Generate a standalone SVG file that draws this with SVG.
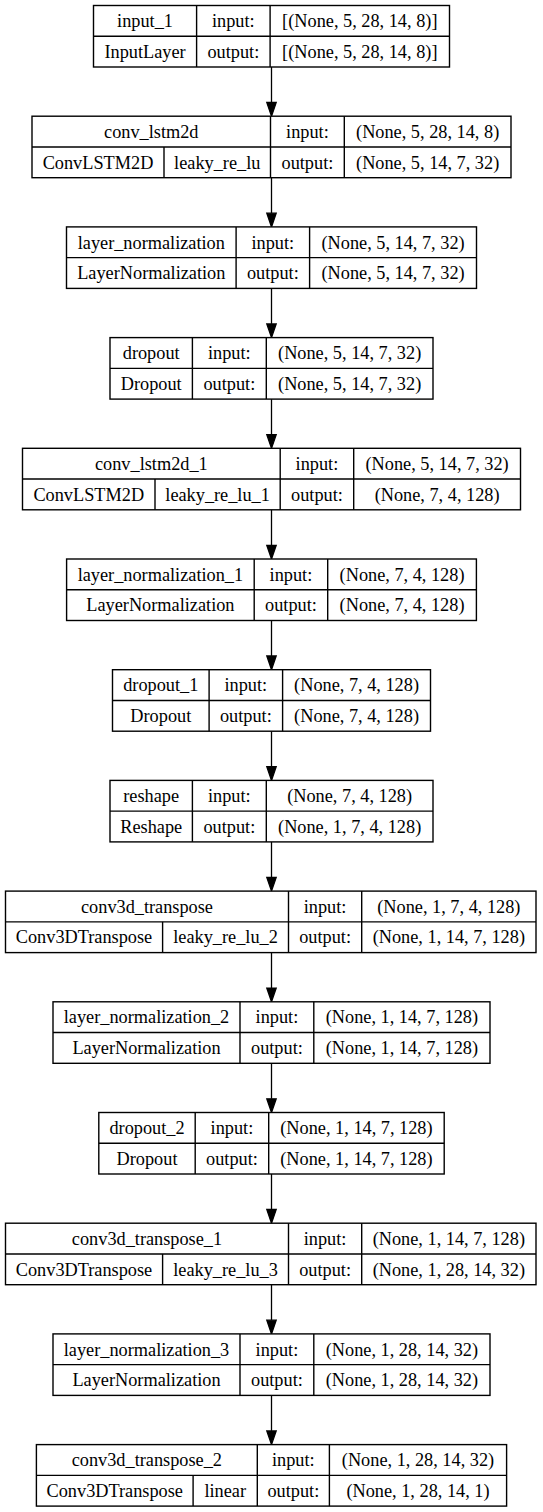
<svg xmlns="http://www.w3.org/2000/svg" width="543" height="1512" viewBox="0 0 543 1512">
<style>
.box{fill:#fff;stroke:#000;stroke-width:1.4}
.div{stroke:#000;stroke-width:1.4}
text{font-family:"Liberation Serif","Times New Roman",serif;font-size:18.3px;fill:#000;text-anchor:middle}
.edge{stroke:#000;stroke-width:1.3;fill:none}
.head{fill:#000;stroke:#000;stroke-width:1.3}
.t{transform:translate(0,0.3px)}
</style>
<rect width="543" height="1512" fill="#fff"/>
<g id="connectors">
<line class="edge" x1="271.5" y1="67" x2="271.5" y2="102.5"/><polygon class="head" points="266.8,102.5 276.2,102.5 271.5,116.2"/>
<line class="edge" x1="271.5" y1="177.7" x2="271.5" y2="213.2"/><polygon class="head" points="266.8,213.2 276.2,213.2 271.5,226.9"/>
<line class="edge" x1="271.5" y1="288.4" x2="271.5" y2="323.9"/><polygon class="head" points="266.8,323.9 276.2,323.9 271.5,337.6"/>
<line class="edge" x1="271.5" y1="399.1" x2="271.5" y2="434.6"/><polygon class="head" points="266.8,434.6 276.2,434.6 271.5,448.3"/>
<line class="edge" x1="271.5" y1="509.8" x2="271.5" y2="545.3"/><polygon class="head" points="266.8,545.3 276.2,545.3 271.5,559"/>
<line class="edge" x1="271.5" y1="620.5" x2="271.5" y2="656"/><polygon class="head" points="266.8,656 276.2,656 271.5,669.7"/>
<line class="edge" x1="271.5" y1="731.2" x2="271.5" y2="766.7"/><polygon class="head" points="266.8,766.7 276.2,766.7 271.5,780.4"/>
<line class="edge" x1="271.5" y1="841.9" x2="271.5" y2="877.4"/><polygon class="head" points="266.8,877.4 276.2,877.4 271.5,891.1"/>
<line class="edge" x1="271.5" y1="952.6" x2="271.5" y2="988.1"/><polygon class="head" points="266.8,988.1 276.2,988.1 271.5,1001.8"/>
<line class="edge" x1="271.5" y1="1063.3" x2="271.5" y2="1098.8"/><polygon class="head" points="266.8,1098.8 276.2,1098.8 271.5,1112.5"/>
<line class="edge" x1="271.5" y1="1174" x2="271.5" y2="1209.5"/><polygon class="head" points="266.8,1209.5 276.2,1209.5 271.5,1223.2"/>
<line class="edge" x1="271.5" y1="1284.7" x2="271.5" y2="1320.2"/><polygon class="head" points="266.8,1320.2 276.2,1320.2 271.5,1333.9"/>
<line class="edge" x1="271.5" y1="1395.4" x2="271.5" y2="1430.9"/><polygon class="head" points="266.8,1430.9 276.2,1430.9 271.5,1444.6"/>
</g>

<g id="input_1">
<rect class="box" x="93.5" y="5.5" width="356" height="61.5"/>
<line class="div" x1="93.5" y1="36.25" x2="449.5" y2="36.25"/>
<line class="div" x1="196.6" y1="5.5" x2="196.6" y2="67"/>
<line class="div" x1="270.1" y1="5.5" x2="270.1" y2="67"/>
<text x="145.05" y="27.1">input_1</text><text x="233.35" y="27.1">input:</text><text x="359.8" y="27.1">[(None, 5, 28, 14, 8)]</text>
<text x="145.05" y="57.8">InputLayer</text><text x="233.35" y="57.8">output:</text><text x="359.8" y="57.8">[(None, 5, 28, 14, 8)]</text>
</g>

<g id="conv_lstm2d">
<rect class="box" x="32" y="116.2" width="479" height="61.5"/>
<line class="div" x1="32" y1="146.95" x2="511" y2="146.95"/>
<line class="div" x1="164" y1="146.95" x2="164" y2="177.7"/>
<line class="div" x1="270.5" y1="116.2" x2="270.5" y2="177.7"/>
<line class="div" x1="344.3" y1="116.2" x2="344.3" y2="177.7"/>
<text x="151.25" y="137.8">conv_lstm2d</text><text x="307.4" y="137.8">input:</text><text x="427.65" y="137.8">(None, 5, 28, 14, 8)</text>
<text x="98" y="168.5">ConvLSTM2D</text><text x="217.25" y="168.5">leaky_re_lu</text><text x="307.4" y="168.5">output:</text><text x="427.65" y="168.5">(None, 5, 14, 7, 32)</text>
</g>

<g id="layer_normalization">
<rect class="box" x="66.5" y="226.9" width="410" height="61.5"/>
<line class="div" x1="66.5" y1="257.65" x2="476.5" y2="257.65"/>
<line class="div" x1="236.1" y1="226.9" x2="236.1" y2="288.4"/>
<line class="div" x1="309.6" y1="226.9" x2="309.6" y2="288.4"/>
<text x="151.3" y="248.5">layer_normalization</text><text x="272.85" y="248.5">input:</text><text x="393.05" y="248.5">(None, 5, 14, 7, 32)</text>
<text x="151.3" y="279.2">LayerNormalization</text><text x="272.85" y="279.2">output:</text><text x="393.05" y="279.2">(None, 5, 14, 7, 32)</text>
</g>

<g id="dropout">
<rect class="box" x="110" y="337.6" width="323" height="61.5"/>
<line class="div" x1="110" y1="368.35" x2="433" y2="368.35"/>
<line class="div" x1="192.4" y1="337.6" x2="192.4" y2="399.1"/>
<line class="div" x1="266.3" y1="337.6" x2="266.3" y2="399.1"/>
<text x="151.2" y="359.2">dropout</text><text x="229.35" y="359.2">input:</text><text x="349.65" y="359.2">(None, 5, 14, 7, 32)</text>
<text x="151.2" y="389.9">Dropout</text><text x="229.35" y="389.9">output:</text><text x="349.65" y="389.9">(None, 5, 14, 7, 32)</text>
</g>

<g id="conv_lstm2d_1">
<rect class="box" x="22.5" y="448.3" width="498" height="61.5"/>
<line class="div" x1="22.5" y1="479.05" x2="520.5" y2="479.05"/>
<line class="div" x1="155" y1="479.05" x2="155" y2="509.8"/>
<line class="div" x1="280.2" y1="448.3" x2="280.2" y2="509.8"/>
<line class="div" x1="353.7" y1="448.3" x2="353.7" y2="509.8"/>
<text x="151.35" y="469.9">conv_lstm2d_1</text><text x="316.95" y="469.9">input:</text><text x="437.1" y="469.9">(None, 5, 14, 7, 32)</text>
<text x="88.75" y="500.6">ConvLSTM2D</text><text x="217.6" y="500.6">leaky_re_lu_1</text><text x="316.95" y="500.6">output:</text><text x="437.1" y="500.6">(None, 7, 4, 128)</text>
</g>

<g id="layer_normalization_1">
<rect class="box" x="66.6" y="559" width="409.8" height="61.5"/>
<line class="div" x1="66.6" y1="589.75" x2="476.4" y2="589.75"/>
<line class="div" x1="254.2" y1="559" x2="254.2" y2="620.5"/>
<line class="div" x1="327.7" y1="559" x2="327.7" y2="620.5"/>
<text x="160.4" y="580.6">layer_normalization_1</text><text x="290.95" y="580.6">input:</text><text x="402.05" y="580.6">(None, 7, 4, 128)</text>
<text x="160.4" y="611.3">LayerNormalization</text><text x="290.95" y="611.3">output:</text><text x="402.05" y="611.3">(None, 7, 4, 128)</text>
</g>

<g id="dropout_1">
<rect class="box" x="112.5" y="669.7" width="318" height="61.5"/>
<line class="div" x1="112.5" y1="700.45" x2="430.5" y2="700.45"/>
<line class="div" x1="209.1" y1="669.7" x2="209.1" y2="731.2"/>
<line class="div" x1="282.6" y1="669.7" x2="282.6" y2="731.2"/>
<text x="160.8" y="691.3">dropout_1</text><text x="245.85" y="691.3">input:</text><text x="356.55" y="691.3">(None, 7, 4, 128)</text>
<text x="160.8" y="722">Dropout</text><text x="245.85" y="722">output:</text><text x="356.55" y="722">(None, 7, 4, 128)</text>
</g>

<g id="reshape">
<rect class="box" x="110" y="780.4" width="323" height="61.5"/>
<line class="div" x1="110" y1="811.15" x2="433" y2="811.15"/>
<line class="div" x1="192.4" y1="780.4" x2="192.4" y2="841.9"/>
<line class="div" x1="266.3" y1="780.4" x2="266.3" y2="841.9"/>
<text x="151.2" y="802">reshape</text><text x="229.35" y="802">input:</text><text x="349.65" y="802">(None, 7, 4, 128)</text>
<text x="151.2" y="832.7">Reshape</text><text x="229.35" y="832.7">output:</text><text x="349.65" y="832.7">(None, 1, 7, 4, 128)</text>
</g>

<g id="conv3d_transpose">
<rect class="box" x="5.5" y="891.1" width="530.5" height="61.5"/>
<line class="div" x1="5.5" y1="921.85" x2="536" y2="921.85"/>
<line class="div" x1="162.6" y1="921.85" x2="162.6" y2="952.6"/>
<line class="div" x1="288.5" y1="891.1" x2="288.5" y2="952.6"/>
<line class="div" x1="361.7" y1="891.1" x2="361.7" y2="952.6"/>
<text x="147" y="912.7">conv3d_transpose</text><text x="325.1" y="912.7">input:</text><text x="448.85" y="912.7">(None, 1, 7, 4, 128)</text>
<text x="84" y="943.4">Conv3DTranspose</text><text x="225.55" y="943.4">leaky_re_lu_2</text><text x="325.1" y="943.4">output:</text><text x="448.85" y="943.4">(None, 1, 14, 7, 128)</text>
</g>

<g id="layer_normalization_2">
<rect class="box" x="53" y="1001.8" width="437" height="61.5"/>
<line class="div" x1="53" y1="1032.55" x2="490" y2="1032.55"/>
<line class="div" x1="240" y1="1001.8" x2="240" y2="1063.3"/>
<line class="div" x1="313.8" y1="1001.8" x2="313.8" y2="1063.3"/>
<text x="146.5" y="1023.4">layer_normalization_2</text><text x="276.9" y="1023.4">input:</text><text x="401.9" y="1023.4">(None, 1, 14, 7, 128)</text>
<text x="146.5" y="1054.1">LayerNormalization</text><text x="276.9" y="1054.1">output:</text><text x="401.9" y="1054.1">(None, 1, 14, 7, 128)</text>
</g>

<g id="dropout_2">
<rect class="box" x="98.8" y="1112.5" width="345.4" height="61.5"/>
<line class="div" x1="98.8" y1="1143.25" x2="444.2" y2="1143.25"/>
<line class="div" x1="195.2" y1="1112.5" x2="195.2" y2="1174"/>
<line class="div" x1="268.7" y1="1112.5" x2="268.7" y2="1174"/>
<text x="147" y="1134.1">dropout_2</text><text x="231.95" y="1134.1">input:</text><text x="356.45" y="1134.1">(None, 1, 14, 7, 128)</text>
<text x="147" y="1164.8">Dropout</text><text x="231.95" y="1164.8">output:</text><text x="356.45" y="1164.8">(None, 1, 14, 7, 128)</text>
</g>

<g id="conv3d_transpose_1">
<rect class="box" x="5.5" y="1223.2" width="530.5" height="61.5"/>
<line class="div" x1="5.5" y1="1253.95" x2="536" y2="1253.95"/>
<line class="div" x1="162.6" y1="1253.95" x2="162.6" y2="1284.7"/>
<line class="div" x1="288.5" y1="1223.2" x2="288.5" y2="1284.7"/>
<line class="div" x1="361.7" y1="1223.2" x2="361.7" y2="1284.7"/>
<text x="147" y="1244.8">conv3d_transpose_1</text><text x="325.1" y="1244.8">input:</text><text x="448.85" y="1244.8">(None, 1, 14, 7, 128)</text>
<text x="84" y="1275.5">Conv3DTranspose</text><text x="225.55" y="1275.5">leaky_re_lu_3</text><text x="325.1" y="1275.5">output:</text><text x="448.85" y="1275.5">(None, 1, 28, 14, 32)</text>
</g>

<g id="layer_normalization_3">
<rect class="box" x="53" y="1333.9" width="437" height="61.5"/>
<line class="div" x1="53" y1="1364.65" x2="490" y2="1364.65"/>
<line class="div" x1="240" y1="1333.9" x2="240" y2="1395.4"/>
<line class="div" x1="313.8" y1="1333.9" x2="313.8" y2="1395.4"/>
<text x="146.5" y="1355.5">layer_normalization_3</text><text x="276.9" y="1355.5">input:</text><text x="401.9" y="1355.5">(None, 1, 28, 14, 32)</text>
<text x="146.5" y="1386.2">LayerNormalization</text><text x="276.9" y="1386.2">output:</text><text x="401.9" y="1386.2">(None, 1, 28, 14, 32)</text>
</g>

<g id="conv3d_transpose_2">
<rect class="box" x="36.4" y="1444.6" width="470.2" height="61.5"/>
<line class="div" x1="36.4" y1="1475.35" x2="506.6" y2="1475.35"/>
<line class="div" x1="193.1" y1="1475.35" x2="193.1" y2="1506.1"/>
<line class="div" x1="257.3" y1="1444.6" x2="257.3" y2="1506.1"/>
<line class="div" x1="329.4" y1="1444.6" x2="329.4" y2="1506.1"/>
<text x="146.85" y="1466.2">conv3d_transpose_2</text><text x="293.35" y="1466.2">input:</text><text x="418" y="1466.2">(None, 1, 28, 14, 32)</text>
<text x="114.75" y="1496.9">Conv3DTranspose</text><text x="225.2" y="1496.9">linear</text><text x="293.35" y="1496.9">output:</text><text x="418" y="1496.9">(None, 1, 28, 14, 1)</text>
</g>
</svg>
